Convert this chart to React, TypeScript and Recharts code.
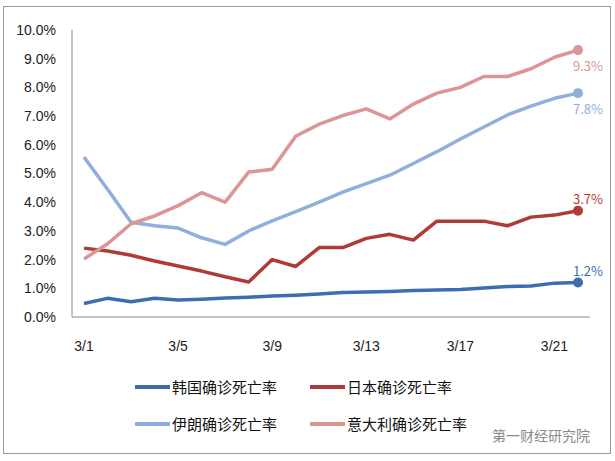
import { LineChart, Line, XAxis, YAxis, LabelList } from 'recharts'

// 确诊死亡率 (%), 3/1 - 3/22
const DATES = [
  '3/1', '3/2', '3/3', '3/4', '3/5', '3/6', '3/7', '3/8', '3/9', '3/10', '3/11',
  '3/12', '3/13', '3/14', '3/15', '3/16', '3/17', '3/18', '3/19', '3/20', '3/21', '3/22',
]
const KOREA = [0.47, 0.65, 0.53, 0.65, 0.59, 0.62, 0.66, 0.69, 0.73, 0.76, 0.8, 0.85, 0.87, 0.89, 0.92, 0.94, 0.96, 1.01, 1.06, 1.08, 1.18, 1.2]
const JAPAN = [2.4, 2.3, 2.15, 1.95, 1.78, 1.6, 1.4, 1.22, 2.0, 1.76, 2.42, 2.42, 2.74, 2.88, 2.68, 3.34, 3.34, 3.34, 3.18, 3.48, 3.55, 3.7]
const IRAN = [5.57, 4.45, 3.3, 3.18, 3.1, 2.76, 2.53, 3.0, 3.35, 3.67, 4.0, 4.35, 4.65, 4.94, 5.35, 5.76, 6.2, 6.62, 7.04, 7.35, 7.62, 7.8]
const ITALY = [2.02, 2.55, 3.25, 3.52, 3.88, 4.33, 4.0, 5.05, 5.15, 6.3, 6.72, 7.02, 7.25, 6.9, 7.42, 7.8, 8.0, 8.38, 8.38, 8.65, 9.05, 9.3]

const X_TICKS = ['3/1', '3/5', '3/9', '3/13', '3/17', '3/21']
const Y_TICKS = [0, 1, 2, 3, 4, 5, 6, 7, 8, 9, 10]

const SERIES = [
  { key: 'korea', name: '韩国确诊死亡率', color: '#3d6db0', labelDy: -11 },
  { key: 'japan', name: '日本确诊死亡率', color: '#b03a38', labelDy: -11 },
  { key: 'iran', name: '伊朗确诊死亡率', color: '#91afdc', labelDy: 16 },
  { key: 'italy', name: '意大利确诊死亡率', color: '#dc9494', labelDy: 16 },
]

const data = DATES.map((d, i) => ({
  date: d,
  korea: KOREA[i],
  japan: JAPAN[i],
  iran: IRAN[i],
  italy: ITALY[i],
}))

const last = DATES.length - 1

const endDot = (color: string) => (props: any) => {
  if (props.index !== last) return <g key={props.index} />
  return <circle key={props.index} cx={props.cx} cy={props.cy} r={5} fill={color} />
}

const endLabel = (color: string, dy: number) => (props: any) => {
  if (props.index !== last) return null
  return (
    <text x={props.x + 10} y={props.y + dy} dy="0.35em" textAnchor="middle" fontSize={13} fill={color}>
      {Number(props.value).toFixed(1)}%
    </text>
  )
}

const tickFont = { fontSize: 14, fill: '#222', fontFamily: 'Liberation Sans, Arial, sans-serif' }

export default function App() {
  return (
    <div style={{ position: 'absolute', left: 0, top: 0, width: 615, height: 461, background: '#fff', fontFamily: 'Noto Sans CJK SC, sans-serif' }}>
      <div style={{ position: 'absolute', left: 3, top: 6, width: 606, height: 446, border: '1.5px solid #9a9a9a' }} />
      <div style={{ position: 'absolute', left: 0, top: 0 }}>
        <LineChart width={615} height={461} data={data} margin={{ top: 30, right: 25, bottom: 114, left: 0 }}>
          <XAxis
            dataKey="date"
            height={30}
            ticks={X_TICKS}
            interval={0}
            padding={{ left: 12, right: 12 }}
            tickLine={false}
            axisLine={{ stroke: '#888' }}
            tick={tickFont}
            tickMargin={18}
          />
          <YAxis
            width={72}
            domain={[0, 10]}
            ticks={Y_TICKS}
            interval={0}
            tickLine={false}
            axisLine={{ stroke: '#888' }}
            tick={tickFont}
            tickMargin={10}
            tickFormatter={(v: number) => `${v.toFixed(1)}%`}
          />
          {SERIES.map((s) => (
            <Line
              key={s.key}
              dataKey={s.key}
              name={s.name}
              type="linear"
              stroke={s.color}
              strokeWidth={3.5}
              strokeLinejoin="round"
              dot={endDot(s.color)}
              activeDot={false}
              isAnimationActive={false}
            >
              <LabelList dataKey={s.key} content={endLabel(s.color, s.labelDy)} />
            </Line>
          ))}
        </LineChart>
      </div>
      {/* legend: 2 x 2 grid */}
      {SERIES.map((s, i) => (
        <div
          key={s.key}
          style={{
            position: 'absolute',
            left: i % 2 === 0 ? 135 : 310,
            top: i < 2 ? 376 : 413,
            display: 'flex',
            alignItems: 'center',
            fontSize: 15,
            color: '#111',
            whiteSpace: 'nowrap',
          }}
        >
          <span style={{ display: 'inline-block', width: 35, height: 4, background: s.color, marginRight: 2 }} />
          {s.name}
        </div>
      ))}
      <div style={{ position: 'absolute', left: 492, top: 425, fontSize: 14, color: '#8a8a8a', whiteSpace: 'nowrap' }}>
        第一财经研究院
      </div>
    </div>
  )
}
